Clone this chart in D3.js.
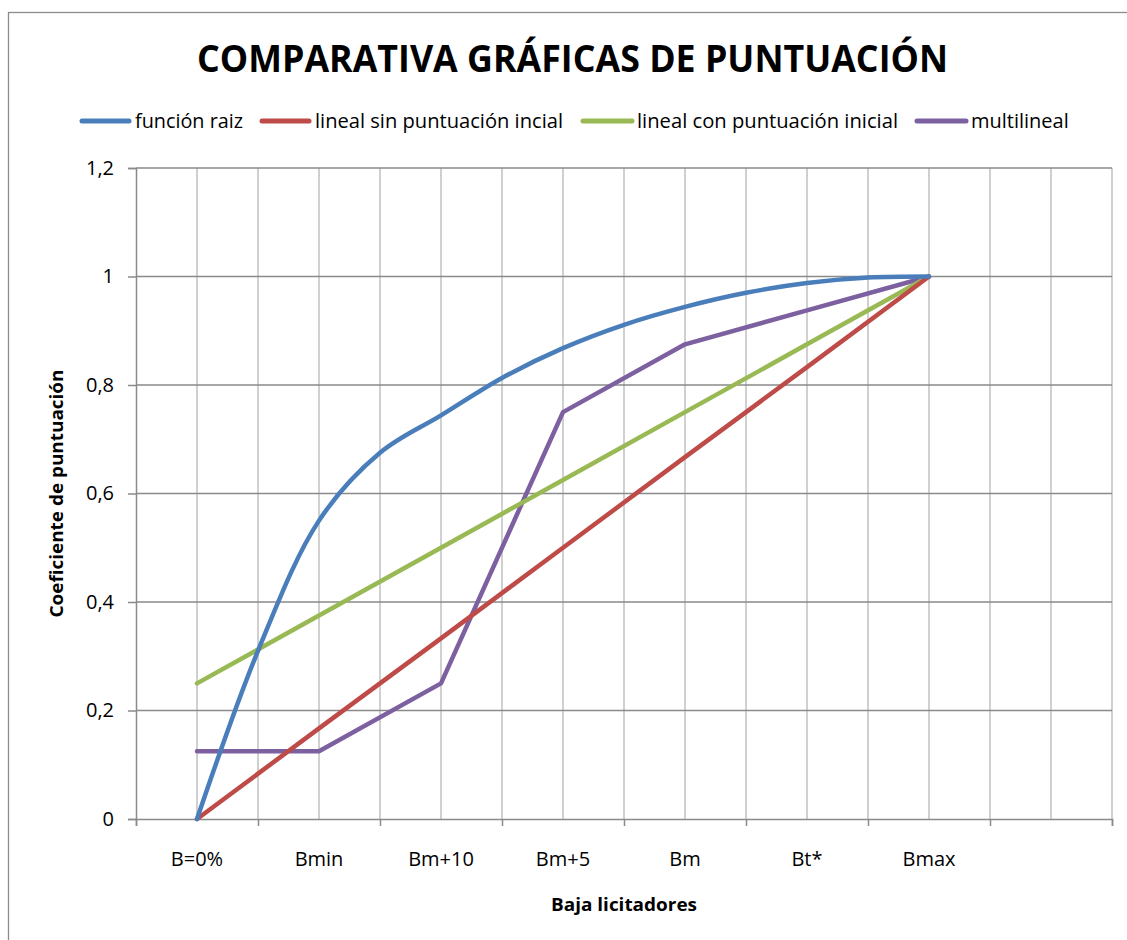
<!DOCTYPE html>
<html>
<head>
<meta charset="utf-8">
<script src="https://cdn.jsdelivr.net/npm/d3@7"></script>
<style>
  body { margin: 0; background: #fff; }
  text { font-family: "Open Sans", "Noto Sans", sans-serif; fill: #000; }
</style>
</head>
<body>
<svg id="chart" width="1127" height="940"></svg>
<script>
// categories on the x axis (last slot is empty)
const categories = ["B=0%", "Bmin", "Bm+10", "Bm+5", "Bm", "Bt*", "Bmax", ""];
const yTicks = [0, 0.2, 0.4, 0.6, 0.8, 1, 1.2];

// función raiz has points every half category
const raizX = [0, 0.5, 1, 1.5, 2, 2.5, 3, 3.5, 4, 4.5, 5, 5.5, 6];
const raizY = [0, 0.31, 0.55, 0.675, 0.744, 0.813, 0.868, 0.911, 0.944, 0.97, 0.988, 0.998, 1];

// the other series have one point per category
const catX = [0, 1, 2, 3, 4, 5, 6];
const linealSin = [0, 0.167, 0.333, 0.5, 0.667, 0.833, 1];
const linealCon = [0.25, 0.375, 0.5, 0.625, 0.75, 0.875, 1];
const multilineal = [0.125, 0.125, 0.25, 0.75, 0.875, 0.9375, 1];

const seriesNames = ["función raiz", "lineal sin puntuación incial", "lineal con puntuación inicial", "multilineal"];
const seriesColors = ["#4a7ebb", "#be4b48", "#98b954", "#7d60a0"];

const svg = d3.select("#chart");
const margin = { top: 168, right: 15, bottom: 121, left: 136 };
const w = 1127 - margin.left - margin.right;
const h = 940 - margin.top - margin.bottom;

// outer chart frame
svg.append("rect")
  .attr("x", 8.5).attr("y", 12.5)
  .attr("width", 1140).attr("height", 960)
  .attr("fill", "none").attr("stroke", "#8c8c8c").attr("stroke-width", 1.3);

// helper: keep text to a measured width
function fit(sel, width) {
  sel.each(function () {
    const len = this.getComputedTextLength();
    if (Math.abs(len - width) > 1) {
      d3.select(this).attr("textLength", width).attr("lengthAdjust", "spacingAndGlyphs");
    }
  });
  return sel;
}

// title
svg.append("text")
  .attr("x", 197).attr("y", 72)
  .attr("font-size", 38).attr("font-weight", "bold")
  .text("COMPARATIVA GRÁFICAS DE PUNTUACIÓN")
  .call(fit, 751);

// legend
const legendItems = [
  { x1: 82, x2: 129, tx: 135, tw: 108 },
  { x1: 262, x2: 309, tx: 315, tw: 248 },
  { x1: 583, x2: 632, tx: 637, tw: 261 },
  { x1: 917, x2: 966, tx: 971, tw: 97 }
];
legendItems.forEach((it, i) => {
  svg.append("line")
    .attr("x1", it.x1).attr("x2", it.x2)
    .attr("y1", 121).attr("y2", 121)
    .attr("stroke", seriesColors[i]).attr("stroke-width", 5)
    .attr("stroke-linecap", "round");
  svg.append("text")
    .attr("x", it.tx).attr("y", 128)
    .attr("font-size", 20)
    .text(seriesNames[i])
    .call(fit, it.tw);
});

const g = svg.append("g").attr("transform", `translate(${margin.left}, ${margin.top})`);

const x = d3.scaleLinear().domain([-0.5, categories.length - 0.5]).range([0, w]);
const y = d3.scaleLinear().domain([0, 1.2]).range([h, 0]);

// vertical gridlines every half category
const vGrid = d3.range(-0.5, categories.length - 0.5 + 0.01, 0.5);
g.selectAll(".vgrid")
  .data(vGrid.slice(1))
  .join("line")
  .attr("class", "vgrid")
  .attr("x1", d => x(d)).attr("x2", d => x(d))
  .attr("y1", 0).attr("y2", h)
  .attr("stroke", "#c0c0c0").attr("stroke-width", 1.5);

// horizontal gridlines
g.selectAll(".hgrid")
  .data(yTicks.slice(1))
  .join("line")
  .attr("class", "hgrid")
  .attr("x1", 0).attr("x2", w)
  .attr("y1", d => y(d)).attr("y2", d => y(d))
  .attr("stroke", "#8a8a8a").attr("stroke-width", 1.5);

// y axis
const yAxis = g.append("g")
  .call(d3.axisLeft(y).tickValues(yTicks).tickSize(8).tickPadding(14)
    .tickFormat(d => String(d).replace(".", ",")));
yAxis.select(".domain").attr("stroke", "#8a8a8a").attr("stroke-width", 1.5);
yAxis.selectAll(".tick line").attr("stroke", "#8a8a8a").attr("stroke-width", 1.5);
yAxis.selectAll(".tick text")
  .attr("font-size", 20).attr("fill", "#000")
  .attr("font-family", "'Open Sans', sans-serif");

// x axis: ticks at category boundaries, labels at category centres
const xAxis = g.append("g").attr("transform", `translate(0, ${h})`)
  .call(d3.axisBottom(x).tickValues(d3.range(-0.5, categories.length, 1)).tickSize(7).tickFormat(""));
xAxis.select(".domain").attr("stroke", "#8a8a8a").attr("stroke-width", 1.5);
xAxis.selectAll(".tick line").attr("stroke", "#8a8a8a").attr("stroke-width", 1.5);

g.selectAll(".xlabel")
  .data(categories)
  .join("text")
  .attr("class", "xlabel")
  .attr("x", (d, i) => x(i))
  .attr("y", h + 47)
  .attr("text-anchor", "middle")
  .attr("font-size", 20)
  .text(d => d);

// axis titles
g.append("text")
  .attr("x", w / 2).attr("y", h + 92)
  .attr("text-anchor", "middle")
  .attr("font-size", 17).attr("font-weight", "bold")
  .text("Baja licitadores")
  .call(fit, 146);

g.append("text")
  .attr("transform", "rotate(-90)")
  .attr("x", -h / 2).attr("y", -margin.left + 63)
  .attr("text-anchor", "middle")
  .attr("font-size", 17).attr("font-weight", "bold")
  .text("Coeficiente de puntuación")
  .call(fit, 248);

// series lines
const lineStraight = d3.line().x(d => x(d[0])).y(d => y(d[1]));
const lineSmooth = d3.line().x(d => x(d[0])).y(d => y(d[1])).curve(d3.curveCatmullRom.alpha(0.5));

const seriesData = [
  { pts: raizX.map((v, i) => [v, raizY[i]]), gen: lineSmooth },
  { pts: catX.map((v, i) => [v, linealSin[i]]), gen: lineStraight },
  { pts: catX.map((v, i) => [v, linealCon[i]]), gen: lineStraight },
  { pts: catX.map((v, i) => [v, multilineal[i]]), gen: lineStraight }
];

// draw in reverse so the first series ends up on top
seriesData.slice().reverse().forEach((s, k) => {
  const i = seriesData.length - 1 - k;
  g.append("path")
    .attr("d", s.gen(s.pts))
    .attr("fill", "none")
    .attr("stroke", seriesColors[i])
    .attr("stroke-width", 4.5)
    .attr("stroke-linejoin", "round")
    .attr("stroke-linecap", "round");
});
</script>
</body>
</html>
